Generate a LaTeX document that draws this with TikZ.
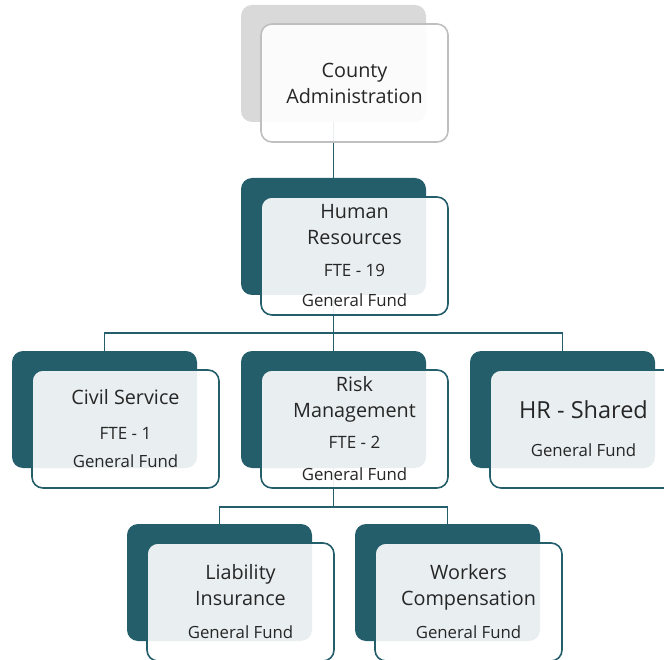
\documentclass[tikz,border=0pt]{standalone}
\usepackage{fontspec}
\setmainfont{Open Sans}
\usetikzlibrary{positioning}

\definecolor{orgteal}{HTML}{235E6A}
\definecolor{orggray}{HTML}{D9D9D9}
\definecolor{orgedge}{HTML}{BFBFBF}
\definecolor{orgtext}{HTML}{262626}

\tikzset{
  backbox/.style={fill=orgteal, rounded corners=11pt, minimum width=185pt,
    minimum height=117pt, inner sep=0pt},
  frontbox/.style={draw=orgteal, line width=1.6pt, fill=white, fill opacity=0.9,
    text opacity=1, text=orgtext, rounded corners=11pt, minimum width=187pt,
    minimum height=118pt, inner sep=0pt, align=center,
    font=\fontsize{19.8}{26}\selectfont},
  link/.style={draw=orgteal, line width=1.8pt}
}
\newcommand{\fte}[1]{{\fontsize{17}{26}\selectfont #1}}
\newcommand{\fund}{{\fontsize{16.8}{26}\selectfont General Fund}}

\begin{document}
\begin{tikzpicture}[x=1pt,y=-1pt]
  \useasboundingbox (0,0) rectangle (664,660);

  % back boxes
  \node[backbox, fill=orggray] (ca) at (333.5,63.5) {};
  \node[backbox] (hr) at (333.5,236.5) {};
  \node[backbox] (cs) at (104.5,409.5) {};
  \node[backbox] (rm) at (333.5,409.5) {};
  \node[backbox] (hrs) at (562.5,409.5) {};
  \node[backbox] (li) at (219.5,582.5) {};
  \node[backbox] (wc) at (447.5,582.5) {};

  % connectors
  \draw[link] (ca.south) -- (hr.north);
  \draw[link] (hr.south) -- ++(0,38) coordinate (bus1);
  \draw[link] (cs.north) |- (bus1) -| (hrs.north);
  \draw[link] (bus1) -- (rm.north);
  \draw[link] (rm.south) -- ++(0,39) coordinate (bus2);
  \draw[link] (li.north) |- (bus2) -| (wc.north);

  % front boxes
  \node[frontbox, draw=orgedge] (caF) at ([shift={(21,19.5)}]ca.center)
    {County\\Administration};
  \node[frontbox] (hrF) at ([shift={(21,19.5)}]hr.center)
    {Human\\Resources\\[6pt]\fte{FTE - 19}\\[4pt]\fund};
  \node[frontbox] (csF) at ([shift={(21,19.5)}]cs.center)
    {Civil Service\\[9pt]\fte{FTE - 1}\\[2pt]\fund};
  \node[frontbox] (rmF) at ([shift={(21,19.5)}]rm.center)
    {Risk\\Management\\[5pt]\fte{FTE - 2}\\[6pt]\fund};
  \node[frontbox] (hrsF) at ([shift={(21,19.5)}]hrs.center)
    {{\fontsize{23.5}{26}\selectfont HR - Shared}\\[12pt]\fund};
  \node[frontbox] (liF) at ([shift={(21,19.5)}]li.center)
    {Liability\\Insurance\\[7pt]\fund};
  \node[frontbox] (wcF) at ([shift={(21,19.5)}]wc.center)
    {Workers\\Compensation\\[7pt]\fund};
\end{tikzpicture}
\end{document}
